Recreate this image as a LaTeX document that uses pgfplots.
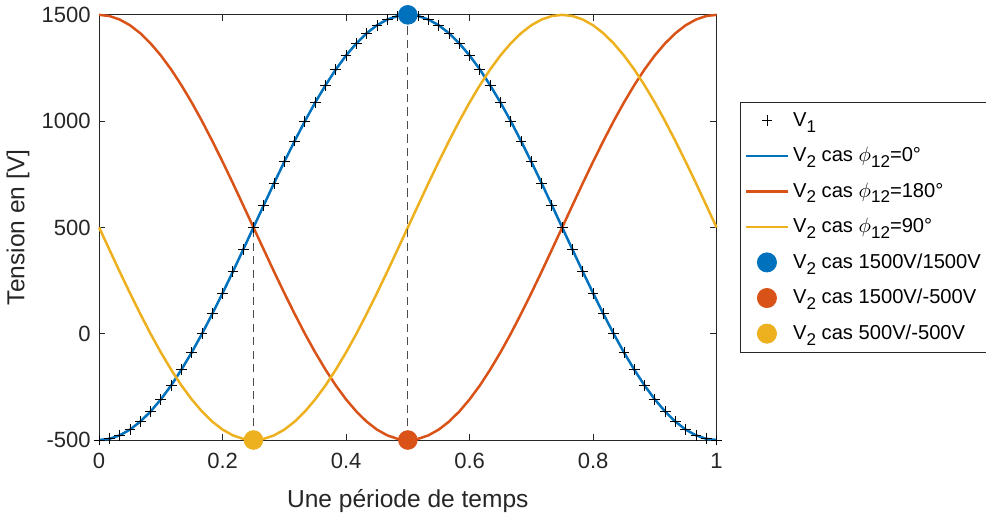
\documentclass[border=0pt]{standalone}
\usepackage{pgfplots}
\pgfplotsset{compat=1.18}
\usepackage{pgfplotstable}
\usepackage{fontspec}
\setmainfont{Liberation Sans}
\definecolor{mblue}{rgb}{0,0.447,0.741}
\definecolor{mred}{rgb}{0.85,0.325,0.098}
\definecolor{myel}{rgb}{0.929,0.694,0.125}
\definecolor{axgray}{rgb}{0.15,0.15,0.15}
\newcommand{\sub}[1]{\raisebox{-0.55ex}{\fontsize{8.2}{9}\selectfont #1}}
\pgfplotstableread{
t v1 red yel
0 -500 1500 500
0.0167 -494.5 1494.5 395.5
0.0333 -478.1 1478.1 292.1
0.05 -451.1 1451.1 191.0
0.0667 -413.5 1413.5 93.3
0.0833 -366.0 1366.0 0
0.1 -309.0 1309.0 -87.8
0.1167 -243.1 1243.1 -169.1
0.1333 -169.1 1169.1 -243.1
0.15 -87.8 1087.8 -309.0
0.1667 0 1000 -366.0
0.1833 93.3 906.7 -413.5
0.2 191.0 809.0 -451.1
0.2167 292.1 707.9 -478.1
0.2333 395.5 604.5 -494.5
0.25 500 500 -500
0.2667 604.5 395.5 -494.5
0.2833 707.9 292.1 -478.1
0.3 809.0 191.0 -451.1
0.3167 906.7 93.3 -413.5
0.3333 1000 0 -366.0
0.35 1087.8 -87.8 -309.0
0.3667 1169.1 -169.1 -243.1
0.3833 1243.1 -243.1 -169.1
0.4 1309.0 -309.0 -87.8
0.4167 1366.0 -366.0 0
0.4333 1413.5 -413.5 93.3
0.45 1451.1 -451.1 191.0
0.4667 1478.1 -478.1 292.1
0.4833 1494.5 -494.5 395.5
0.5 1500 -500 500
0.5167 1494.5 -494.5 604.5
0.5333 1478.1 -478.1 707.9
0.55 1451.1 -451.1 809.0
0.5667 1413.5 -413.5 906.7
0.5833 1366.0 -366.0 1000
0.6 1309.0 -309.0 1087.8
0.6167 1243.1 -243.1 1169.1
0.6333 1169.1 -169.1 1243.1
0.65 1087.8 -87.8 1309.0
0.6667 1000 0 1366.0
0.6833 906.7 93.3 1413.5
0.7 809.0 191.0 1451.1
0.7167 707.9 292.1 1478.1
0.7333 604.5 395.5 1494.5
0.75 500 500 1500
0.7667 395.5 604.5 1494.5
0.7833 292.1 707.9 1478.1
0.8 191.0 809.0 1451.1
0.8167 93.3 906.7 1413.5
0.8333 0 1000 1366.0
0.85 -87.8 1087.8 1309.0
0.8667 -169.1 1169.1 1243.1
0.8833 -243.1 1243.1 1169.1
0.9 -309.0 1309.0 1087.8
0.9167 -366.0 1366.0 1000
0.9333 -413.5 1413.5 906.7
0.95 -451.1 1451.1 809.0
0.9667 -478.1 1478.1 707.9
0.9833 -494.5 1494.5 604.5
1 -500 1500 500
}\data
\begin{document}
\begin{tikzpicture}
\begin{axis}[
  scale only axis,
  width=297pt, height=204.5pt,
  xmin=0, xmax=1, ymin=-500, ymax=1500,
  xtick={0,0.2,0.4,0.6,0.8,1},
  xticklabels={0,0.2,0.4,0.6,0.8,1},
  ytick={-500,0,500,1000,1500},
  yticklabels={-500,0,500,1000,1500},
  tick align=inside,
  xtick pos=both, ytick pos=both,
  major tick length=3pt,
  axis line style={axgray, line width=0.4pt},
  tick style={axgray, line width=0.4pt},
  every tick label/.append style={text=axgray, font=\fontsize{10.6}{13}\selectfont},
  xticklabel style={yshift=-3pt},
  yticklabel style={xshift=-0.5pt},
  xlabel={Une période de temps},
  ylabel={Tension en [V]},
  label style={text=axgray, font=\fontsize{11.8}{14}\selectfont},
  xlabel style={yshift=-3pt},
  ylabel style={yshift=-1pt},
  clip=false,
  legend image code/.code={\draw[mark repeat=2,mark phase=2,#1] plot coordinates {(0pt,0pt) (10pt,0pt) (20pt,0pt)};},
  legend style={at={(1.0385,0.5)}, anchor=west, draw=axgray, line width=0.4pt,
    font=\fontsize{9.7}{12}\selectfont, text=black, row sep=4.6pt,
    inner xsep=2pt, inner ysep=3pt, cells={anchor=west, inner xsep=2.5pt}},
]
% legend images
\addlegendimage{only marks, mark=+, black, mark size=2.6pt, mark options={line width=0.4pt}}
\addlegendentry{V\sub{1}}
\addlegendimage{mblue, line width=1.2pt, no markers}
\addlegendentry{V\sub{2} cas $\phi$\sub{12}=0°}
\addlegendimage{mred, line width=1.2pt, no markers}
\addlegendentry{V\sub{2} cas $\phi$\sub{12}=180°}
\addlegendimage{myel, line width=1.2pt, no markers}
\addlegendentry{V\sub{2} cas $\phi$\sub{12}=90°}
\addlegendimage{only marks, mark=*, mblue, mark size=4.6pt}
\addlegendentry{V\sub{2} cas 1500V/1500V}
\addlegendimage{only marks, mark=*, mred, mark size=4.6pt}
\addlegendentry{V\sub{2} cas 1500V/-500V}
\addlegendimage{only marks, mark=*, myel, mark size=4.6pt}
\addlegendentry{V\sub{2} cas 500V/-500V}
% curves
\addplot[forget plot, mblue, line width=1.2pt, no markers] table[x=t, y=v1] {\data};
\addplot[forget plot, mred, line width=1.2pt, no markers] table[x=t, y=red] {\data};
\addplot[forget plot, myel, line width=1.2pt, no markers] table[x=t, y=yel] {\data};
\addplot[forget plot, only marks, mark=+, black, mark size=2.6pt, mark options={line width=0.4pt}] table[x=t, y=v1] {\data};
% dashed guides
\addplot[forget plot, black!70, dash pattern=on 4pt off 2.5pt, line width=0.5pt] coordinates {(0.25,-500) (0.25,500)};
\addplot[forget plot, black!70, dash pattern=on 4pt off 2.5pt, line width=0.5pt] coordinates {(0.5,-500) (0.5,1500)};
% dots
\addplot[forget plot, only marks, mark=*, mblue, mark size=4.5pt] coordinates {(0.5,1500)};
\addplot[forget plot, only marks, mark=*, mred, mark size=4.5pt] coordinates {(0.5,-500)};
\addplot[forget plot, only marks, mark=*, myel, mark size=4.5pt] coordinates {(0.25,-500)};
\end{axis}
\pgfresetboundingbox
\path ([xshift=-47.67pt,yshift=-36.4pt]current axis.south west) rectangle ([xshift=426.6pt,yshift=7.15pt]current axis.north west);
\end{tikzpicture}
\end{document}
